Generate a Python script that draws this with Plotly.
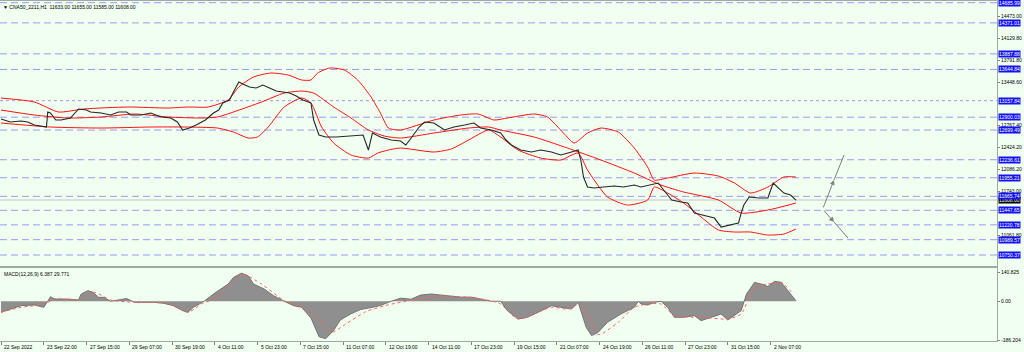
import plotly.graph_objects as go

# ---------------- data (bar index = hourly bar number) ----------------
price_bar = [0, 7, 15, 20, 25, 34, 35, 37, 41, 45, 52, 58, 64, 67, 75, 82, 88, 94, 97, 105,
             112, 120, 127, 132, 136, 141, 146, 153, 159, 163, 166, 171, 174, 178, 181, 186, 191, 196, 201, 206,
             211, 216, 221, 226, 232, 234, 238, 243, 251, 258, 266, 271, 275, 278, 284, 292, 299, 303, 307, 313,
             317, 324, 332, 339, 347, 354, 359, 367, 374, 378, 382, 389, 397, 404, 412, 419, 427, 432, 434, 436,
             439, 444, 451, 459, 466, 474, 479, 487, 492, 496, 502, 509, 514, 519, 526, 534, 539, 546, 552, 554,
             556, 560, 567, 574, 578, 582, 586, 591, 595]
price_close = [12872, 12825, 12840, 12825, 12778, 12747, 12981, 12965, 12856, 12856, 12887, 13028, 13012, 12981, 12965, 12934, 12981, 12981, 12934, 12934,
               12965, 12903, 12887, 12825, 12700, 12731, 12778, 12856, 12965, 13012, 13121, 13168, 13293, 13449, 13418, 13371, 13355, 13402, 13355, 13308,
               13293, 13277, 13230, 13168, 13121, 12856, 12622, 12591, 12591, 12606, 12622, 12622, 12388, 12653, 12591, 12544, 12528, 12466, 12575, 12747,
               12825, 12809, 12700, 12747, 12778, 12809, 12731, 12700, 12653, 12544, 12466, 12388, 12357, 12388, 12357, 12310, 12357, 12388, 12232, 11967,
               11811, 11795, 11811, 11826, 11811, 11842, 11811, 11842, 11873, 11764, 11608, 11577, 11561, 11405, 11374, 11327, 11187, 11218, 11249, 11405,
               11530, 11655, 11639, 11639, 11873, 11795, 11717, 11686, 11608]

bb_up_bar = [0, 25, 43, 62, 95, 125, 140, 155, 170, 178, 189, 202, 215, 225, 232, 237, 246, 257, 267, 277,
             284, 290, 299, 324, 344, 357, 369, 379, 399, 409, 421, 429, 439, 449, 462, 474, 484, 489, 499, 519,
             537, 549, 561, 574, 586, 595]
bb_up = [13199, 13137, 12981, 13028, 13059, 13043, 13059, 13059, 13168, 13371, 13527, 13589, 13558, 13480, 13480, 13589, 13667, 13636, 13480, 13215,
         12965, 12731, 12700, 12856, 12934, 12950, 12856, 12887, 12950, 12903, 12653, 12497, 12653, 12731, 12669, 12419, 12123, 11920, 11951, 12029,
         11982, 11873, 11717, 11811, 11967, 11967]

bb_mid_bar = [0, 25, 50, 75, 100, 125, 150, 162, 174, 195, 212, 225, 234, 249, 262, 275, 287, 299, 324, 350,
              365, 374, 399, 424, 449, 474, 494, 511, 537, 554, 574, 595]
bb_mid = [13012, 12934, 12887, 12903, 12950, 12903, 12887, 12903, 12981, 13137, 13277, 13308, 13277, 13059, 12887, 12700, 12606, 12575, 12653, 12731,
          12747, 12700, 12591, 12419, 12232, 12029, 11842, 11733, 11608, 11405, 11452, 11561]

bb_low_bar = [0, 37, 75, 112, 137, 162, 174, 185, 192, 200, 212, 225, 232, 240, 249, 262, 275, 282, 290, 299,
              324, 337, 350, 365, 374, 387, 404, 419, 432, 439, 454, 469, 484, 489, 499, 511, 524, 537, 549, 561,
              574, 586, 595]
bb_low = [12809, 12747, 12731, 12747, 12747, 12731, 12669, 12575, 12591, 12747, 13059, 13200, 13121, 12747, 12497, 12310, 12263, 12341, 12388, 12419,
          12357, 12404, 12544, 12700, 12591, 12388, 12263, 12232, 12341, 12076, 11655, 11530, 11608, 11811, 11717, 11561, 11343, 11140, 11109, 11109,
          11062, 11078, 11156]

macd_bar = [0, 7, 15, 25, 32, 35, 37, 40, 50, 58, 60, 65, 69, 73, 77, 82, 88, 94, 100, 107,
            115, 122, 129, 136, 140, 144, 152, 159, 170, 174, 180, 185, 189, 197, 204, 212, 219, 225, 232, 238,
            243, 249, 254, 262, 269, 277, 284, 292, 299, 307, 314, 322, 329, 337, 344, 352, 359, 367, 374, 379,
            387, 394, 402, 412, 419, 427, 432, 434, 438, 442, 447, 454, 464, 474, 477, 479, 484, 489, 494, 499,
            504, 511, 519, 524, 531, 539, 544, 549, 554, 558, 564, 569, 574, 579, 584, 589, 595]
macd_hist = [-53, -37, -21, -18, -29, 0, 22, 11, 11, 6, 35, 51, 43, 19, 19, 0, 6, 13, -5, -5,
             -5, -10, -21, -45, -53, -29, 0, 35, 83, 115, 135, 123, 83, 59, 27, 0, -21, -29, -80, -170,
             -180, -140, -90, -60, -40, -30, -20, 0, 15, 10, 30, 35, 30, 25, 20, 20, 10, 0, 0, -45,
             -85, -77, -53, -21, -29, -37, -5, -45, -125, -165, -149, -101, -61, -29, 0, -13, -18, -5, 0, -29,
             -77, -77, -69, -93, -77, -61, -90, -69, -45, 35, 91, 83, 71, 96, 91, 51, 3]

sig_bar = [0, 15, 25, 35, 40, 58, 70, 82, 100, 125, 140, 150, 162, 180, 195, 212, 225, 236, 247, 258,
           273, 288, 307, 329, 352, 367, 374, 387, 412, 424, 434, 447, 462, 474, 484, 494, 504, 524, 544, 554,
           564, 574, 584, 593]
sig_val = [-53, -29, -21, -5, 11, 6, 43, 6, -5, -10, -53, -13, 19, 131, 83, 3, -29, -70, -150, -110,
           -50, -20, 5, 25, 18, 2, -13, -85, -29, -37, -13, -160, -101, -29, -13, -13, -69, -77, -85, -61,
           67, 83, 91, 35]

level_prices = [14685.99, 14371.01, 13887.88, 13644.84, 13157.84, 12900.03, 12699.49,
                12236.61, 11955.21, 11665.74, 11447.65, 11220.78, 10989.57, 10750.37]
level_dotted = [13157.84]
axis_ticks = [14473.00, 14129.80, 13791.80, 13448.60, 12767.40, 12424.20, 12086.20, 11743.00, 11061.80]
last_price = 11608.00

x_tick_bars = [0, 32, 64, 96, 128, 160, 192, 224, 256, 288, 320, 352, 384, 416, 448, 480, 512, 544, 576]
x_tick_text = ["22 Sep 2022", "23 Sep 22:00", "27 Sep 15:00", "29 Sep 07:00", "30 Sep 19:00", "4 Oct 11:00",
               "5 Oct 23:00", "7 Oct 15:00", "11 Oct 07:00", "12 Oct 19:00", "14 Oct 11:00", "17 Oct 23:00",
               "19 Oct 15:00", "21 Oct 07:00", "24 Oct 19:00", "26 Oct 11:00", "27 Oct 23:00", "31 Oct 15:00",
               "2 Nov 07:00"]

macd_ticks = [140.825, 0.0, -186.204]
macd_tick_text = ["140.825", "0.00", "-186.204"]

# drawn arrows: (bar, price)
arrow_vertex = (615, 11468)
arrow_up_mid = (623.5, 11920)
arrow_up_end = (631, 12310)
arrow_dn_mid = (623.5, 11265)
arrow_dn_end = (634, 11015)

title_text = "CNA50_2211,H1  11633.00 11655.00 11585.00 11608.00"
macd_text = "MACD(12,26,9) 6.387 29.771"

# ---------------- figure ----------------
BG = "#F0FFF0"
FONT = "Liberation Sans"
FS = 5.5
FS_LBL = 5
X_RANGE = [-0.75, 745.5]

fig = go.Figure()

for bx, by in ((bb_up_bar, bb_up), (bb_mid_bar, bb_mid), (bb_low_bar, bb_low)):
    fig.add_trace(go.Scatter(x=bx, y=by, mode="lines",
                             line=dict(color="#FF1010", width=1, shape="spline", smoothing=0.6),
                             xaxis="x", yaxis="y", hoverinfo="skip"))
fig.add_trace(go.Scatter(x=price_bar, y=price_close, mode="lines", line=dict(color="#262626", width=1.1),
                         xaxis="x", yaxis="y", hoverinfo="skip"))

fig.add_trace(go.Scatter(x=macd_bar, y=macd_hist, mode="lines", fill="tozeroy",
                         fillcolor="rgba(128,128,128,0.88)", line=dict(color="#747474", width=1),
                         xaxis="x2", yaxis="y2", hoverinfo="skip"))
fig.add_trace(go.Scatter(x=sig_bar, y=sig_val, mode="lines",
                         line=dict(color="#FF6060", width=1, dash="dot", shape="spline", smoothing=0.6),
                         xaxis="x2", yaxis="y2", hoverinfo="skip"))

shapes = []
for lv in level_prices:
    shapes.append(dict(type="line", xref="paper", x0=0, x1=1, yref="y", y0=lv, y1=lv,
                       line=dict(color="#9a9af2", width=1, dash="dot" if lv in level_dotted else "7px,4px"),
                       layer="below"))
shapes.append(dict(type="line", xref="paper", x0=0, x1=1, yref="y", y0=last_price, y1=last_price,
                   line=dict(color="#c4c4c4", width=1), layer="below"))
shapes.append(dict(type="line", xref="x", yref="y", x0=arrow_up_mid[0], y0=arrow_up_mid[1],
                   x1=arrow_up_end[0], y1=arrow_up_end[1], line=dict(color="#808080", width=1)))
shapes.append(dict(type="line", xref="x", yref="y", x0=arrow_dn_mid[0], y0=arrow_dn_mid[1],
                   x1=arrow_dn_end[0], y1=arrow_dn_end[1], line=dict(color="#808080", width=1)))
shapes.append(dict(type="line", xref="paper", yref="paper", x0=0, x1=1, y0=1, y1=1,
                   line=dict(color="#a0a8a0", width=2)))

annotations = []
for mid in (arrow_up_mid, arrow_dn_mid):
    annotations.append(dict(x=mid[0], y=mid[1], xref="x", yref="y", ax=arrow_vertex[0], ay=arrow_vertex[1],
                            axref="x", ayref="y", showarrow=True, arrowhead=2, arrowsize=1, arrowwidth=1,
                            arrowcolor="#808080", text=""))

annotations.append(dict(x=1, y=last_price, xref="paper", yref="y", xanchor="left", yanchor="middle", xshift=1,
                        text=f"{last_price:.2f}", showarrow=False, bgcolor="#000000", borderpad=0,
                        font=dict(color="white", size=FS_LBL, family=FONT)))
for lv in level_prices:
    annotations.append(dict(x=1, y=lv, xref="paper", yref="y", xanchor="left", yanchor="middle", xshift=1,
                            text=f"{lv:.2f}", showarrow=False, bgcolor="#1212F5", borderpad=0,
                            font=dict(color="white", size=FS_LBL, family=FONT)))

for b, t in zip(x_tick_bars, x_tick_text):
    annotations.append(dict(x=b, y=0, xref="x2", yref="paper", xanchor="left", yanchor="top", xshift=1, yshift=-1,
                            text=t, showarrow=False, font=dict(color="#000000", size=FS_LBL, family=FONT)))

annotations.append(dict(x=0, y=1, xref="paper", yref="paper", xanchor="left", yanchor="top", xshift=1, yshift=-2,
                        text="\u25BC " + title_text, showarrow=False,
                        font=dict(color="#000000", size=FS_LBL, family=FONT)))
annotations.append(dict(x=0, y=160, xref="paper", yref="y2", xanchor="left", yanchor="top", xshift=2, yshift=-1,
                        text=macd_text, showarrow=False, font=dict(color="#000000", size=FS_LBL, family=FONT)))

main_lo = 0.2199
fig.update_layout(
    width=1024, height=352,
    margin=dict(l=0, r=27, t=0, b=11),
    paper_bgcolor=BG, plot_bgcolor=BG,
    showlegend=False, hovermode=False,
    xaxis=dict(domain=[0, 1], anchor="y", range=X_RANGE, showgrid=False, zeroline=False,
               showticklabels=False, showline=True, mirror=True, linecolor="#a0a8a0", linewidth=1, ticks=""),
    xaxis2=dict(domain=[0, 1], anchor="y2", range=X_RANGE, matches="x", showgrid=False, zeroline=False,
                showticklabels=False, showline=True, mirror=True, linecolor="#a0a8a0", linewidth=1,
                tickvals=x_tick_bars, ticks="outside", ticklen=3, tickcolor="#808080"),
    yaxis=dict(domain=[main_lo, 1], anchor="x", side="right", range=[10578.8, 14728],
               showgrid=False, zeroline=False, showline=True, mirror=True, linecolor="#a0a8a0", linewidth=1,
               tickvals=axis_ticks, ticktext=[f"{v:.2f}" for v in axis_ticks], ticks="outside", ticklen=2,
               tickcolor="#808080", tickfont=dict(size=FS_LBL, family=FONT, color="#000000")),
    yaxis2=dict(domain=[0, 0.214], anchor="x2", side="right", range=[-191, 160],
                showgrid=False, zeroline=False, showline=True, mirror=True, linecolor="#a0a8a0", linewidth=1,
                tickvals=macd_ticks, ticktext=macd_tick_text, ticks="outside", ticklen=2,
                tickcolor="#808080", tickfont=dict(size=FS_LBL, family=FONT, color="#000000")),
    shapes=shapes,
    annotations=annotations,
)

fig.write_html("out.html")
